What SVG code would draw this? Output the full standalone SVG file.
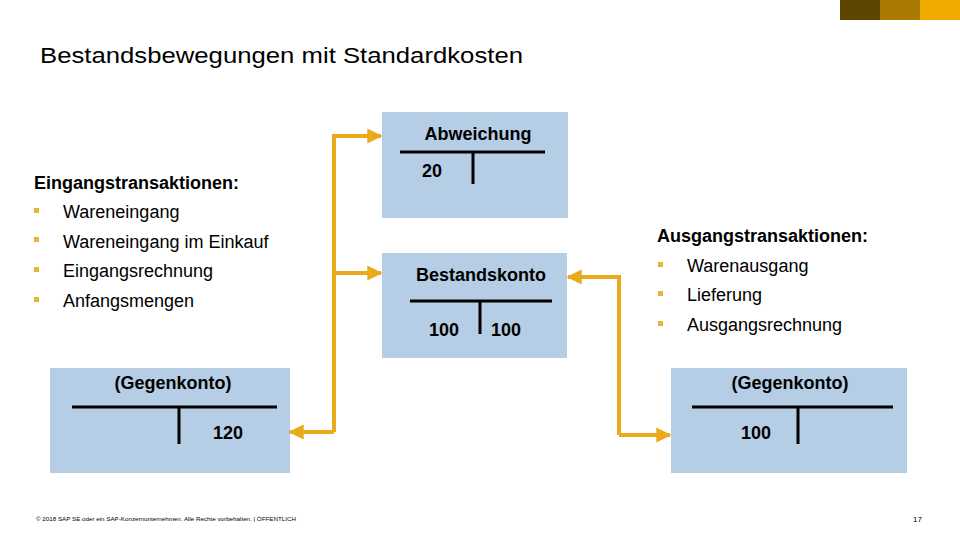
<svg xmlns="http://www.w3.org/2000/svg" width="960" height="540" viewBox="0 0 960 540">
<defs>
<style>
.t{font-family:"Liberation Sans",Arial,sans-serif;fill:#000}
.b{font-weight:bold}
.box{fill:#B5CDE5}
.ln{stroke:#000;stroke-width:3;fill:none}
.con{stroke:#EAAA1A;stroke-width:4;fill:none}
.bul{fill:#E8B43A}
</style>
<marker id="ah" viewBox="0 0 10 10" refX="9" refY="5" markerWidth="3.8" markerHeight="3.8" orient="auto" markerUnits="strokeWidth">
<path d="M0,0 L10,5 L0,10 z" fill="#EAAA1A"/>
</marker>
</defs>
<rect width="960" height="540" fill="#fff"/>
<rect x="840" y="0" width="40" height="20" fill="#5E4500"/>
<rect x="880" y="0" width="40" height="20" fill="#AA7B00"/>
<rect x="920" y="0" width="40" height="20" fill="#F0AB00"/>
<text class="t" x="40" y="63" font-size="22" textLength="483" lengthAdjust="spacingAndGlyphs">Bestandsbewegungen mit Standardkosten</text>

<g id="eingang">
<text class="t b" x="34" y="189" font-size="18">Eingangstransaktionen:</text>
<rect class="bul" x="34" y="208" width="5" height="5"/><text class="t" x="63" y="218" font-size="18">Wareneingang</text>
<rect class="bul" x="34" y="237" width="5" height="5"/><text class="t" x="63" y="248" font-size="18">Wareneingang im Einkauf</text>
<rect class="bul" x="34" y="267" width="5" height="5"/><text class="t" x="63" y="277" font-size="18">Eingangsrechnung</text>
<rect class="bul" x="34" y="297" width="5" height="5"/><text class="t" x="63" y="307" font-size="18">Anfangsmengen</text>
</g>

<g id="ausgang">
<text class="t b" x="657" y="242" font-size="18">Ausgangstransaktionen:</text>
<rect class="bul" x="658" y="262" width="5" height="5"/><text class="t" x="687" y="272" font-size="18">Warenausgang</text>
<rect class="bul" x="658" y="291" width="5" height="5"/><text class="t" x="687" y="301" font-size="18">Lieferung</text>
<rect class="bul" x="658" y="321" width="5" height="5"/><text class="t" x="687" y="331" font-size="18">Ausgangsrechnung</text>
</g>

<g id="abweichung">
<rect class="box" x="382" y="112" width="186" height="106"/>
<text class="t b" x="478" y="140" font-size="18" text-anchor="middle">Abweichung</text>
<line class="ln" x1="400" y1="152" x2="545" y2="152"/>
<line class="ln" x1="473" y1="152" x2="473" y2="184"/>
<text class="t b" x="432" y="177" font-size="18" text-anchor="middle">20</text>
</g>

<g id="bestandskonto">
<rect class="box" x="382" y="253" width="185" height="105"/>
<text class="t b" x="481" y="281" font-size="18" text-anchor="middle">Bestandskonto</text>
<line class="ln" x1="410" y1="301" x2="552" y2="301"/>
<line class="ln" x1="480" y1="301" x2="480" y2="334"/>
<text class="t b" x="444" y="336" font-size="18" text-anchor="middle">100</text>
<text class="t b" x="506" y="336" font-size="18" text-anchor="middle">100</text>
</g>

<g id="gegenkonto-links">
<rect class="box" x="50" y="368" width="240" height="105"/>
<text class="t b" x="173" y="389" font-size="18" text-anchor="middle">(Gegenkonto)</text>
<line class="ln" x1="72" y1="407" x2="277" y2="407"/>
<line class="ln" x1="179" y1="407" x2="179" y2="444"/>
<text class="t b" x="228" y="439" font-size="18" text-anchor="middle">120</text>
</g>

<g id="gegenkonto-rechts">
<rect class="box" x="671" y="368" width="236" height="105"/>
<text class="t b" x="790" y="389" font-size="18" text-anchor="middle">(Gegenkonto)</text>
<line class="ln" x1="692" y1="407" x2="893" y2="407"/>
<line class="ln" x1="798" y1="407" x2="798" y2="444"/>
<text class="t b" x="756" y="439" font-size="18" text-anchor="middle">100</text>
</g>

<g id="connectors">
<path class="con" d="M334,432 L334,136 L381,136" marker-end="url(#ah)"/>
<path class="con" d="M334,273 L381,273" marker-end="url(#ah)"/>
<path class="con" d="M334,432 L290,432" marker-end="url(#ah)"/>
<path class="con" d="M619,435 L619,277 L568,277" marker-end="url(#ah)"/>
<path class="con" d="M619,435 L670,435" marker-end="url(#ah)"/>
</g>

<text class="t" x="36" y="521" font-size="6" textLength="260" lengthAdjust="spacingAndGlyphs">© 2018 SAP SE oder ein SAP-Konzernunternehmen. Alle Rechte vorbehalten.  |  ÖFFENTLICH</text>
<text class="t" x="913" y="522" font-size="8">17</text>
</svg>
